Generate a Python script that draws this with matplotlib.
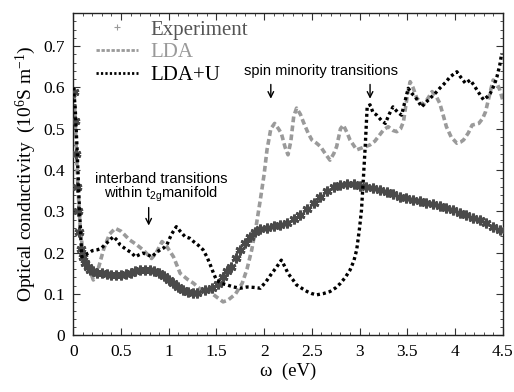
import matplotlib
matplotlib.use("Agg")
import matplotlib.pyplot as plt
from matplotlib.lines import Line2D

# ---------------- data ----------------
exp_x = [0.01, 0.02, 0.03, 0.04, 0.05, 0.06, 0.08, 0.10, 0.12, 0.15, 0.18, 0.21, 0.25,
         0.30, 0.35, 0.40, 0.45, 0.50, 0.55, 0.60, 0.65, 0.70, 0.75, 0.80, 0.85, 0.90,
         0.95, 1.00, 1.05, 1.10, 1.15, 1.20, 1.25, 1.30, 1.38, 1.45, 1.52, 1.57, 1.61,
         1.65, 1.70, 1.75, 1.80, 1.85, 1.90, 1.96, 2.03, 2.10, 2.17, 2.24, 2.31, 2.38,
         2.45, 2.52, 2.59, 2.66, 2.73, 2.80, 2.87, 2.94, 3.00, 3.07, 3.14, 3.21, 3.29,
         3.35, 3.42, 3.49, 3.56, 3.63, 3.70, 3.77, 3.84, 3.91, 3.98, 4.05, 4.12, 4.19,
         4.26, 4.33, 4.40, 4.47]
exp_y = [0.59, 0.52, 0.44, 0.36, 0.30, 0.25, 0.21, 0.19, 0.175, 0.165, 0.158, 0.155, 0.152,
         0.150, 0.148, 0.146, 0.145, 0.145, 0.148, 0.151, 0.155, 0.157, 0.158, 0.157, 0.155, 0.150,
         0.143, 0.135, 0.126, 0.117, 0.110, 0.105, 0.103, 0.103, 0.110, 0.115, 0.124, 0.142, 0.155,
         0.166, 0.186, 0.207, 0.224, 0.239, 0.250, 0.257, 0.261, 0.264, 0.268, 0.272, 0.281, 0.291,
         0.305, 0.320, 0.336, 0.350, 0.358, 0.364, 0.367, 0.366, 0.362, 0.359, 0.356, 0.352, 0.348,
         0.342, 0.336, 0.332, 0.328, 0.324, 0.320, 0.317, 0.314, 0.308, 0.303, 0.297, 0.291, 0.285,
         0.279, 0.271, 0.263, 0.256]

lda_x = [0.0, 0.01, 0.04, 0.07, 0.10, 0.16, 0.21, 0.26, 0.32, 0.38, 0.44, 0.50, 0.59, 0.66,
         0.73, 0.82, 0.87, 0.93, 0.98, 1.05, 1.12, 1.20, 1.26, 1.33, 1.38, 1.41, 1.46, 1.50,
         1.57, 1.62, 1.70, 1.77, 1.82, 1.87, 1.92, 1.96, 2.00, 2.03, 2.07, 2.11, 2.15, 2.18,
         2.22, 2.25, 2.28, 2.31, 2.34, 2.38, 2.41, 2.46, 2.50, 2.55, 2.59, 2.64, 2.69, 2.73,
         2.76, 2.80, 2.83, 2.87, 2.90, 2.97, 3.04, 3.11, 3.16, 3.21, 3.25, 3.30, 3.35, 3.39,
         3.43, 3.46, 3.50, 3.53, 3.56, 3.60, 3.67, 3.72, 3.76, 3.80, 3.84, 3.88, 3.91, 3.96,
         4.02, 4.06, 4.09, 4.14, 4.18, 4.25, 4.29, 4.32, 4.36, 4.40, 4.44, 4.47, 4.50]
lda_y = [0.60, 0.58, 0.40, 0.27, 0.20, 0.166, 0.134, 0.16, 0.21, 0.245, 0.259, 0.252, 0.231, 0.22,
         0.207, 0.186, 0.20, 0.227, 0.215, 0.19, 0.150, 0.135, 0.126, 0.112, 0.108, 0.110, 0.100, 0.093,
         0.081, 0.085, 0.100, 0.126, 0.160, 0.207, 0.270, 0.328, 0.390, 0.449, 0.500, 0.513, 0.500, 0.489,
         0.455, 0.437, 0.470, 0.530, 0.550, 0.535, 0.517, 0.490, 0.473, 0.465, 0.457, 0.440, 0.424, 0.440,
         0.457, 0.500, 0.509, 0.490, 0.473, 0.449, 0.455, 0.461, 0.470, 0.485, 0.497, 0.505, 0.496, 0.493,
         0.500, 0.517, 0.580, 0.614, 0.600, 0.574, 0.558, 0.575, 0.590, 0.580, 0.562, 0.530, 0.505, 0.480,
         0.465, 0.468, 0.473, 0.490, 0.509, 0.513, 0.525, 0.541, 0.580, 0.618, 0.610, 0.594, 0.570]

ldau_x = [0.0, 0.02, 0.04, 0.06, 0.08, 0.09, 0.12, 0.16, 0.20, 0.25, 0.29, 0.33, 0.38, 0.42,
          0.46, 0.49, 0.56, 0.61, 0.65, 0.69, 0.73, 0.78, 0.82, 0.87, 0.91, 0.95, 0.98, 1.03,
          1.08, 1.12, 1.17, 1.22, 1.26, 1.31, 1.36, 1.40, 1.43, 1.47, 1.50, 1.55, 1.61, 1.68,
          1.75, 1.82, 1.89, 1.96, 2.02, 2.08, 2.13, 2.18, 2.22, 2.25, 2.30, 2.34, 2.40, 2.45,
          2.50, 2.55, 2.62, 2.69, 2.75, 2.80, 2.85, 2.90, 2.94, 2.97, 3.00, 3.02, 3.04, 3.06,
          3.08, 3.11, 3.14, 3.18, 3.23, 3.27, 3.31, 3.35, 3.40, 3.44, 3.48, 3.51, 3.55, 3.58,
          3.62, 3.65, 3.70, 3.74, 3.79, 3.84, 3.90, 3.95, 4.02, 4.06, 4.11, 4.16, 4.20, 4.23,
          4.27, 4.30, 4.34, 4.37, 4.41, 4.44, 4.47, 4.49]
ldau_y = [0.60, 0.55, 0.45, 0.33, 0.23, 0.19, 0.195, 0.199, 0.205, 0.207, 0.210, 0.219, 0.230, 0.239,
          0.230, 0.219, 0.207, 0.200, 0.190, 0.195, 0.199, 0.195, 0.190, 0.200, 0.207, 0.212, 0.219, 0.245,
          0.263, 0.252, 0.239, 0.235, 0.227, 0.218, 0.207, 0.190, 0.174, 0.150, 0.134, 0.126, 0.122, 0.117,
          0.114, 0.117, 0.116, 0.114, 0.130, 0.150, 0.165, 0.182, 0.165, 0.150, 0.135, 0.122, 0.113, 0.106,
          0.101, 0.098, 0.101, 0.106, 0.115, 0.126, 0.140, 0.158, 0.180, 0.207, 0.260, 0.303, 0.380, 0.460,
          0.554, 0.558, 0.540, 0.533, 0.520, 0.513, 0.535, 0.553, 0.540, 0.533, 0.570, 0.598, 0.585, 0.578,
          0.565, 0.553, 0.565, 0.574, 0.585, 0.598, 0.612, 0.626, 0.638, 0.625, 0.610, 0.618, 0.605, 0.594,
          0.580, 0.570, 0.578, 0.586, 0.605, 0.626, 0.655, 0.683]

x_ticks = [0, 0.5, 1, 1.5, 2, 2.5, 3, 3.5, 4, 4.5]
x_ticklabels = ["0", "0.5", "1", "1.5", "2", "2.5", "3", "3.5", "4", "4.5"]
y_ticks = [0, 0.1, 0.2, 0.3, 0.4, 0.5, 0.6, 0.7]
y_ticklabels = ["0", "0.1", "0.2", "0.3", "0.4", "0.5", "0.6", "0.7"]

# ---------------- styling ----------------
plt.rcParams["mathtext.fontset"] = "custom"
plt.rcParams["mathtext.rm"] = "Liberation Serif"
plt.rcParams["mathtext.it"] = "Liberation Serif:italic"
plt.rcParams["mathtext.sf"] = "Liberation Sans"

SERIF = ["Liberation Serif", "DejaVu Serif"]
SANS = ["Liberation Sans", "DejaVu Sans"]
EXP_C = "#4a4a4a"
LDA_C = "#9a9a9a"
LDAU_C = "#000000"

fig = plt.figure(figsize=(5.14, 3.92), dpi=100)
ax = fig.add_axes([0.1426, 0.1446, 0.978 - 0.1426, 0.9676 - 0.1446])

ax.plot(exp_x, exp_y, ls="none", marker=(6, 2, 0), ms=7, mew=2.0, color=EXP_C, zorder=3)
ax.plot(lda_x, lda_y, color=LDA_C, lw=2.6, ls=(0, (1.6, 0.9)), dash_capstyle="butt", zorder=2)
ax.plot(ldau_x, ldau_y, color=LDAU_C, lw=2.4, ls=(0, (0.9, 0.9)), dash_capstyle="butt", zorder=4)

ax.set_xlim(0, 4.5)
ax.set_ylim(0, 0.781)
ax.set_xticks(x_ticks)
ax.set_xticklabels(x_ticklabels, family=SERIF, fontsize=12.5)
ax.set_yticks(y_ticks)
ax.set_yticklabels(y_ticklabels, family=SERIF, fontsize=12.5)
ax.set_xticks([i * 0.1 for i in range(46)], minor=True)
ax.set_yticks([i * 0.02 for i in range(40)], minor=True)
ax.tick_params(which="both", direction="in", top=True, right=True, color="#333333")
ax.tick_params(which="major", length=5, width=0.8, pad=6)
ax.tick_params(which="minor", length=2.5, width=0.6)
for s in ax.spines.values():
    s.set_linewidth(1.0)
    s.set_color("#222222")

ax.set_xlabel("ω  (eV)", family=SERIF, fontsize=13.5, labelpad=2)
ax.set_ylabel("Optical conductivity  (10$^6$S m$^{-1}$)", family=SERIF, fontsize=14, labelpad=4)

handles = [
    Line2D([], [], ls="none", marker="+", ms=5, mew=0.8, color="#999999"),
    Line2D([], [], color=LDA_C, lw=2.0, ls=(0, (1.2, 0.6))),
    Line2D([], [], color=LDAU_C, lw=2.0, ls=(0, (0.8, 0.8))),
]
leg = ax.legend(handles, ["Experiment", "LDA", "LDA+U"], loc="upper left",
                bbox_to_anchor=(0.01, 1.035), frameon=False, handlelength=2.0,
                handletextpad=0.6, labelspacing=0.15, prop={"family": SERIF, "size": 15})
for t, c in zip(leg.get_texts(), ["#555555", "#999999", "#000000"]):
    t.set_color(c)

# annotations
ax.text(2.6, 0.64, "spin minority transitions", family=SANS, fontsize=10.5,
        ha="center", va="center")
for xa in [2.07, 3.11]:
    ax.annotate("", xy=(xa, 0.566), xytext=(xa, 0.614),
                arrowprops=dict(arrowstyle="->", lw=1.0, color="black"))
ax.text(0.92, 0.356, "interband transitions\nwithin t$_{\\mathsf{2g}}$manifold", family=SANS,
        fontsize=10.5, ha="center", va="center", multialignment="center", linespacing=0.95)
ax.annotate("", xy=(0.79, 0.259), xytext=(0.79, 0.316),
            arrowprops=dict(arrowstyle="->", lw=1.0, color="black"))

fig.savefig("out.png", dpi=100)
